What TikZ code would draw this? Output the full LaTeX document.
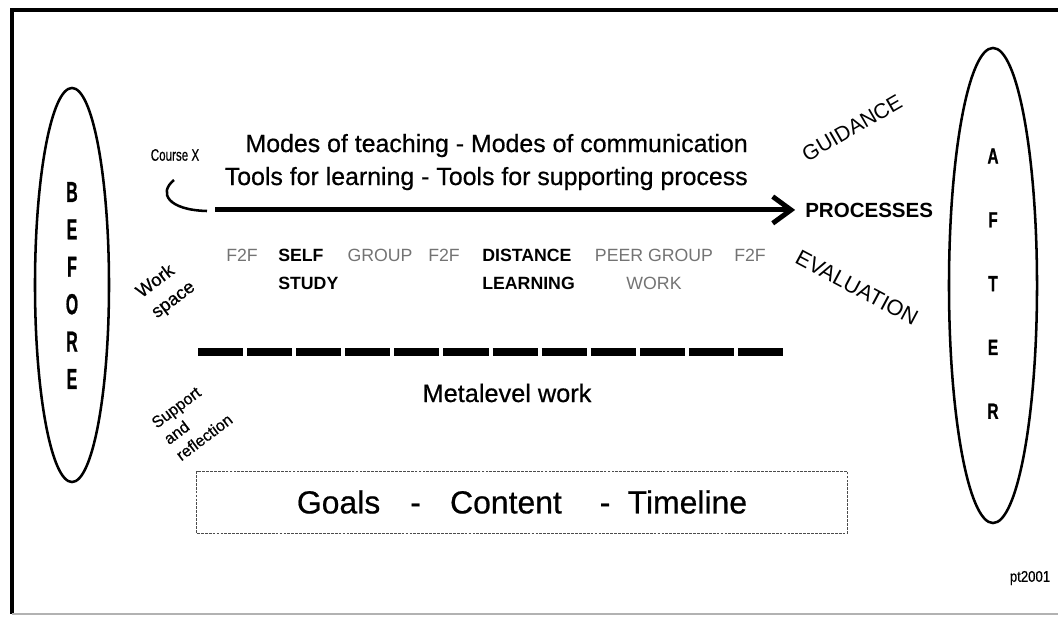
\documentclass[tikz,border=0pt]{standalone}
\usepackage{fontspec}
\setmainfont{Liberation Sans}
\newfontfamily\scan{Liberation Sans}[FakeBold=0.6]
\newfontfamily\heavy{Liberation Sans Bold}[FakeBold=1.2]
\usetikzlibrary{arrows.meta,shapes.geometric}

\begin{document}
\begin{tikzpicture}[x=0.025cm,y=-0.025cm,
  oval/.style={draw,ellipse,line width=1.8pt,inner sep=0pt},
  workitem/.style={anchor=north,inner sep=0pt,font=\fontsize{12.6}{19.8}\selectfont},
  faint/.style={text=black!55},
  strong/.style={font=\fontsize{12.6}{19.8}\selectfont\bfseries},
  slanted/.style={inner sep=0pt,font=\fontsize{15}{18}\selectfont},
  flow/.style={line width=3.5pt,shorten >=7pt,-{Straight Barb[length=13pt,width=19pt]}}]
\useasboundingbox (0,0) rectangle (1058,619);
% frame
\draw[line width=3.5pt] (1058,10) -- (12,10) -- (12,614);
\draw[gray!60,line width=1.5pt] (12,614) -- (1058,614);
% before and after
\node (before) [oval,minimum width=1.85cm,minimum height=9.85cm] at (72,285) {};
\node (after) [oval,minimum width=2.2cm,minimum height=11.875cm] at (993,285.5) {};
\foreach \l [count=\i from 0] in {B,E,F,O,R,E}
  \node[font=\fontsize{20.5}{24}\heavy] at (72,192+37.4*\i) {\scalebox{0.55}[1]{\l}};
\foreach \l [count=\i from 0] in {A,F,T,E,R}
  \node[font=\fontsize{15.6}{18}\heavy] at (993,156+63.8*\i) {\scalebox{0.7}[1]{\l}};
% course and processes
\node (course) [font=\fontsize{11.8}{13}\scan] at (175,155) {\scalebox{0.7}[1]{Course X}};
\coordinate (hooktop) at (174,180);
\coordinate (hookend) at (207,211);
\draw[line width=1.8pt] (hooktop) .. controls (158,193) and (168,210) .. (hookend);
\node (modes) [anchor=base east,inner sep=0pt,font=\fontsize{17.7}{22}\scan] at (748,152) {Modes of teaching - Modes of communication};
\node (tools) [anchor=base east,inner sep=0pt,font=\fontsize{17.7}{22}\scan] at (748,185) {Tools for learning - Tools for supporting process};
\node (proc) [anchor=base west,inner sep=0pt,font=\fontsize{14.6}{18}\selectfont\bfseries] at (805,217) {PROCESSES};
\coordinate (arrstart) at (215,211);
\draw[flow] (arrstart |- proc.west) -- (proc.west);
\node (guide) [slanted,rotate=30] at (852,128) {GUIDANCE};
\node (eval) [slanted,rotate=-28,font=\fontsize{15.5}{18}\selectfont] at (857,288) {EVALUATION};
% work space
\node (work) [rotate=37,align=left,font=\fontsize{13}{18}\scan] at (166,290) {Work\\space};
\node (f2fa) [workitem,faint] at (242,249) {F2F};
\node (self) [workitem,strong,anchor=north west,align=left] at (278,249) {SELF\\STUDY};
\node (group) [workitem,faint] at (380,249) {GROUP};
\node (f2fb) [workitem,faint] at (444,249) {F2F};
\node (dist) [workitem,strong,anchor=north west,align=left] at (482,249) {DISTANCE\\LEARNING};
\node (peer) [workitem,faint,align=center] at (654,249) {PEER GROUP\\WORK};
\node (f2fc) [workitem,faint] at (750,249) {F2F};
% metalevel
\coordinate (metal) at (198,352);
\coordinate (metar) at (785,352);
\draw[line width=5pt,dash pattern=on 32.07pt off 2.835pt] (metal) -- (metar);
\node (meta) [anchor=base,inner sep=0pt,font=\fontsize{18}{22}\scan] at (507,402) {Metalevel work};
\node (support) [rotate=37,align=left,font=\fontsize{11.5}{14.5}\scan] at (192,421) {Support\\and\\reflection};
% goals
\node (goals) [draw=black!70,line width=0.7pt,dash pattern=on 2pt off 0.8pt,minimum width=16.25cm,minimum height=1.55cm,
  font=\fontsize{22.7}{26}\scan] at (522,502)
  {Goals\hspace*{21.3pt}-\hspace*{20.8pt}Content\hspace*{26.9pt}-\hspace*{12.3pt}Timeline};
\node (mark) [font=\fontsize{11}{13}\scan] at (1030,578) {\scalebox{0.85}[1]{pt2001}};
\end{tikzpicture}
\end{document}
